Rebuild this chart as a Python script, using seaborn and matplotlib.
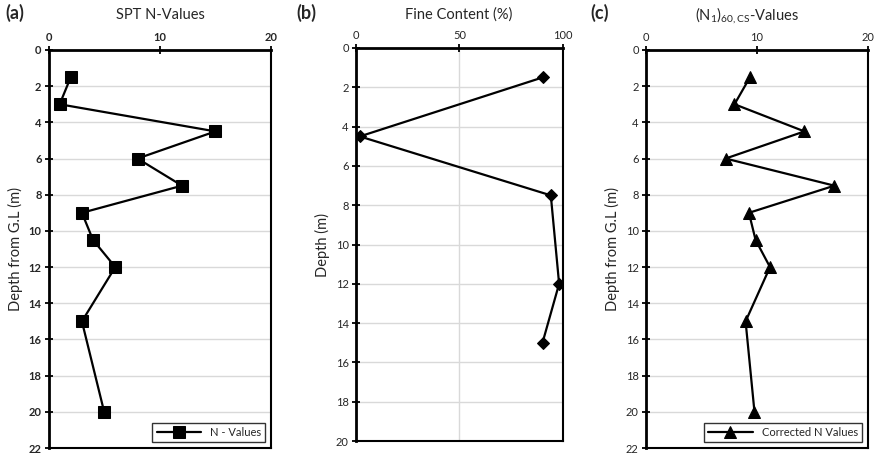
import matplotlib
matplotlib.use("Agg")
import matplotlib.pyplot as plt
import seaborn as sns
import pandas as pd

depth_a = [1.5, 3, 4.5, 6, 7.5, 9, 10.5, 12, 15, 20]
n_values = [2, 1, 15, 8, 12, 3, 4, 6, 3, 5]

depth_b = [1.5, 4.5, 7.5, 12, 15]
fine_content = [90, 2, 94, 98, 90]

depth_c = [1.5, 3, 4.5, 6, 7.5, 9, 10.5, 12, 15, 20]
n_corrected = [9.4, 8.0, 14.3, 7.2, 17.0, 9.3, 9.9, 11.2, 9.0, 9.8]

sns.set_theme(style="white")
plt.rcParams['font.family'] = ['Lato', 'DejaVu Sans']
plt.rcParams['mathtext.fontset'] = 'custom'
plt.rcParams['mathtext.rm'] = 'Lato'
plt.rcParams['mathtext.it'] = 'Lato:italic'

W, H = 876, 454
fig = plt.figure(figsize=(8.76, 4.54), dpi=100)
ax_a = fig.add_axes([0.0554, 0.0132, 0.2540, 0.8767])
ax_b = fig.add_axes([0.4060, 0.0286, 0.2370, 0.8657])
ax_c = fig.add_axes([0.7371, 0.0132, 0.2534, 0.8767])

df_a = pd.DataFrame({"N": n_values, "Depth": depth_a})
df_b = pd.DataFrame({"FC": fine_content, "Depth": depth_b})
df_c = pd.DataFrame({"N": n_corrected, "Depth": depth_c})

sns.lineplot(data=df_a, x="N", y="Depth", sort=False, estimator=None, ax=ax_a,
             color="black", marker="s", markersize=9, markeredgecolor="black",
             linewidth=1.6, label="N - Values")
sns.lineplot(data=df_b, x="FC", y="Depth", sort=False, estimator=None, ax=ax_b,
             color="black", marker="D", markersize=6.5, markeredgecolor="black",
             linewidth=1.6, legend=False)
sns.lineplot(data=df_c, x="N", y="Depth", sort=False, estimator=None, ax=ax_c,
             color="black", marker="^", markersize=9, markeredgecolor="black",
             linewidth=1.6, label="Corrected N Values")

def style(ax, xlim, xticks, ylim, yticks, bold, ylabel):
    ax.set_xlim(*xlim)
    ax.set_ylim(ylim[1], ylim[0])
    ax.set_xticks(xticks)
    ax.set_yticks(yticks)
    ax.xaxis.tick_top()
    ax.xaxis.set_label_position("top")
    w = "bold" if bold else "normal"
    ax.set_xticklabels([str(t) for t in xticks], fontsize=8, fontweight=w)
    ax.set_yticklabels([str(t) for t in yticks], fontsize=8, fontweight=w)
    ax.tick_params(axis="both", direction="inout", length=6, width=1.3, color="black",
                   pad=2, top=True, bottom=False, left=True, right=False)
    ax.grid(axis="y", color="#d9d9d9", linewidth=1)
    ax.set_axisbelow(True)
    for s in ["left", "top"]:
        ax.spines[s].set_linewidth(2.0)
        ax.spines[s].set_color("black")
    for s in ["right", "bottom"]:
        ax.spines[s].set_linewidth(1.5)
        ax.spines[s].set_color("black")
    ax.set_xlabel("")
    ax.set_ylabel(ylabel, fontsize=10.5, labelpad=4)

style(ax_a, (0, 20), [0, 10, 20], (0, 22), list(range(0, 23, 2)), True,
      "Depth from G.L (m)")
style(ax_b, (0, 100), [0, 50, 100], (0, 20), list(range(0, 21, 2)), False,
      "Depth (m)")
ax_b.grid(axis="x", color="#d9d9d9", linewidth=1)
style(ax_c, (0, 20), [0, 10, 20], (0, 22), list(range(0, 23, 2)), False,
      "Depth from G.L (m)")

titles = [("SPT N-Values", 160), ("Fine Content (%)", 459),
          (r"$\mathregular{(N_1)_{60,CS}}$-Values", 747)]
for t, xc in titles:
    fig.text(xc / W, 1 - 15 / H, t, fontsize=10.5, ha="center", va="center")

for lbl, xl in [("(a)", 5), ("(b)", 296), ("(c)", 590)]:
    fig.text(xl / W, 1 - 4 / H, lbl, fontsize=13, fontweight="bold",
             ha="left", va="top")

for ax in (ax_a, ax_c):
    leg = ax.legend(loc="lower right", fontsize=8, frameon=True, fancybox=False,
                    edgecolor="black", borderaxespad=0.5, handlelength=4,
                    borderpad=0.4)
    leg.get_frame().set_linewidth(1.0)

fig.savefig("out.png", dpi=100)
